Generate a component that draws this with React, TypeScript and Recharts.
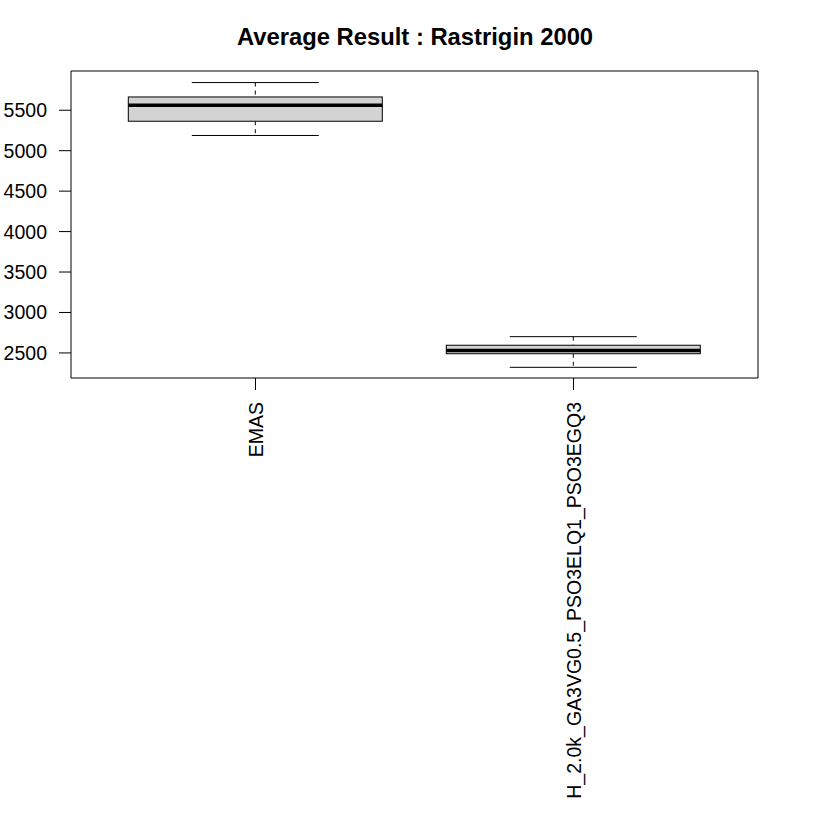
import { ComposedChart, Bar, XAxis, YAxis } from "recharts";

const categories = ["EMAS", "H_2.0k_GA3VG0.5_PSO3ELQ1_PSO3EGQ3"];
const mins = [5188, 2322];
const q1s = [5364, 2490];
const medians = [5562, 2531];
const q3s = [5664, 2595];
const maxs = [5842, 2701];
const yTicks = [2500, 3000, 3500, 4000, 4500, 5000, 5500];

const data = categories.map((name, i) => ({
  name,
  min: mins[i],
  q1: q1s[i],
  median: medians[i],
  q3: q3s[i],
  max: maxs[i],
  range: [mins[i], maxs[i]],
}));

const FONT = "'Liberation Sans', Arial, Helvetica, sans-serif";

// box drawn from the range bar: y/height come from the y scale (min..max),
// the quartiles are placed on the same linear scale
const BoxShape = (props: any) => {
  const { x, y, width, height, payload } = props;
  const top = Math.min(y, y + height);
  const bottom = Math.max(y, y + height);
  const span = payload.max - payload.min;
  const toY = (v: number) => bottom - ((v - payload.min) / span) * (bottom - top);
  const cx = x + width / 2;
  const capHalf = width / 4;
  const yq1 = toY(payload.q1);
  const yq3 = toY(payload.q3);
  const ymed = toY(payload.median);
  return (
    <g>
      <line x1={cx} x2={cx} y1={top} y2={yq3} stroke="#000" strokeDasharray="4 4" />
      <line x1={cx} x2={cx} y1={yq1} y2={bottom} stroke="#000" strokeDasharray="4 4" />
      <line x1={cx - capHalf} x2={cx + capHalf} y1={top} y2={top} stroke="#000" />
      <line x1={cx - capHalf} x2={cx + capHalf} y1={bottom} y2={bottom} stroke="#000" />
      <rect x={x} y={yq3} width={width} height={yq1 - yq3} fill="#d3d3d3" stroke="#000" />
      <line x1={x} x2={x + width} y1={ymed} y2={ymed} stroke="#000" strokeWidth={3.5} />
    </g>
  );
};

const XTick = (props: any) => {
  const { x, y, payload } = props;
  return (
    <text
      x={x}
      y={y}
      dy="0.36em"
      transform={`rotate(-90, ${x}, ${y})`}
      textAnchor="end"
      fontSize={19.5}
      fontFamily={FONT}
      fill="#000"
    >
      {payload.value}
    </text>
  );
};

export default function App() {
  return (
    <div style={{ position: "absolute", left: 0, top: 0, width: 830, height: 830, background: "#fff" }}>
      <div
        style={{
          position: "absolute",
          left: 0,
          top: 25,
          width: 830,
          textAlign: "center",
          fontFamily: FONT,
          fontWeight: "bold",
          fontSize: 23.8,
          lineHeight: 1,
          color: "#000",
        }}
      >
        Average Result : Rastrigin 2000
      </div>
      <ComposedChart
        width={830}
        height={830}
        data={data}
        margin={{ top: 70, right: 71, bottom: 0, left: 0 }}
        barCategoryGap="10%"
      >
        <XAxis
          dataKey="name"
          height={452}
          padding={{ left: 25.5, right: 25.5 }}
          interval={0}
          tickSize={12}
          tickMargin={12}
          tick={<XTick />}
          axisLine={{ stroke: "#000" }}
          tickLine={{ stroke: "#000" }}
        />
        <XAxis
          xAxisId="top"
          dataKey="name"
          orientation="top"
          height={1}
          tick={false}
          tickLine={false}
          axisLine={{ stroke: "#000" }}
        />
        <YAxis
          type="number"
          domain={[2190, 5985]}
          ticks={yTicks}
          interval={0}
          width={71}
          tickSize={12}
          tickMargin={12}
          allowDataOverflow
          tick={{ fontSize: 19.5, fontFamily: FONT, fill: "#000" }}
          axisLine={{ stroke: "#000" }}
          tickLine={{ stroke: "#000" }}
        />
        <YAxis
          yAxisId="right"
          orientation="right"
          type="number"
          domain={[0, 1]}
          width={1}
          tick={false}
          tickLine={false}
          axisLine={{ stroke: "#000" }}
        />
        <Bar dataKey="range" shape={<BoxShape />} isAnimationActive={false} />
      </ComposedChart>
    </div>
  );
}
